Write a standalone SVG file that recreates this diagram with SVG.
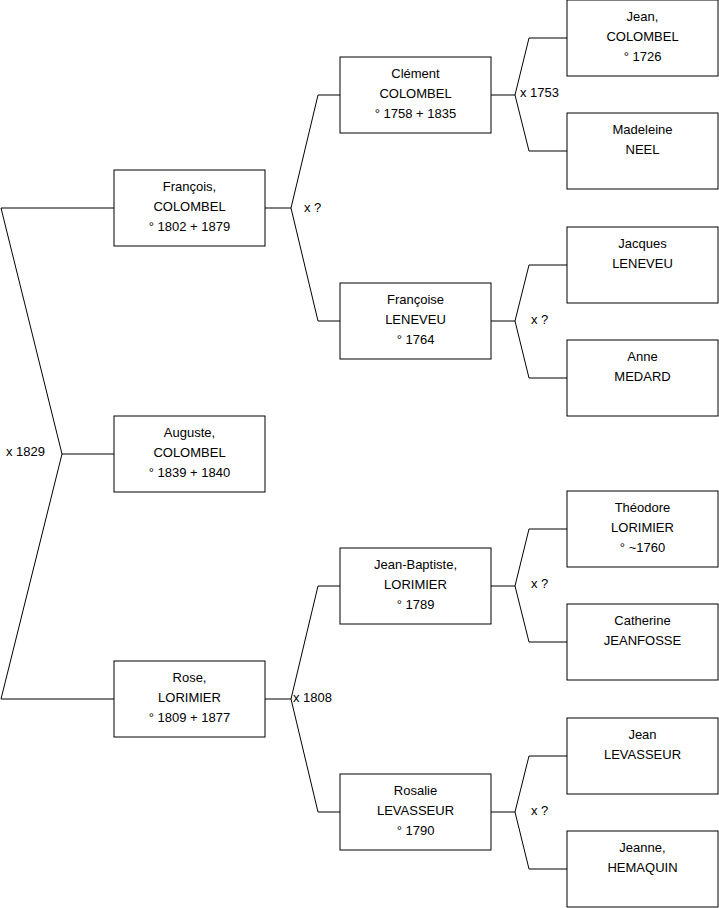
<svg xmlns="http://www.w3.org/2000/svg" width="719" height="908" viewBox="0 0 719 908">
<style>
.box{fill:#fff;stroke:#000;stroke-width:1}
.t{font-family:"Liberation Sans",Arial,sans-serif;font-size:13px;fill:#000;text-anchor:middle}
.l{font-family:"Liberation Sans",Arial,sans-serif;font-size:13px;fill:#000}
.c{fill:none;stroke:#000;stroke-width:1}
</style>
<rect width="719" height="908" fill="#fff"/>
<g id="connectors">
<path class="c" d="M114,208H1L62,454H114M62,454L1,699H114"/>
<path class="c" d="M265,208H291L318,95H340M291,208L318,321H340"/>
<path class="c" d="M265,699H291L318,586H340M291,699L318,812H340"/>
<path class="c" d="M491,95H515L529,38H567M515,95L529,151H567"/>
<path class="c" d="M491,321H515L529,265H567M515,321L529,378H567"/>
<path class="c" d="M491,586H515L529,529H567M515,586L529,642H567"/>
<path class="c" d="M491,812H515L529,756H567M515,812L529,869H567"/>
<text class="l" x="6" y="456">x 1829</text>
<text class="l" x="304" y="212">x ?</text>
<text class="l" x="293" y="702">x 1808</text>
<text class="l" x="520" y="97">x 1753</text>
<text class="l" x="531" y="324">x ?</text>
<text class="l" x="531" y="588">x ?</text>
<text class="l" x="531" y="815">x ?</text>
</g>
<g id="francois"><rect class="box" x="114" y="170" width="151" height="76"/><text class="t" x="189.5" y="191">François,</text><text class="t" x="189.5" y="211">COLOMBEL</text><text class="t" x="189.5" y="231">° 1802 + 1879</text></g>
<g id="auguste"><rect class="box" x="114" y="416" width="151" height="76"/><text class="t" x="189.5" y="437">Auguste,</text><text class="t" x="189.5" y="457">COLOMBEL</text><text class="t" x="189.5" y="477">° 1839 + 1840</text></g>
<g id="rose"><rect class="box" x="114" y="661" width="151" height="76"/><text class="t" x="189.5" y="682">Rose,</text><text class="t" x="189.5" y="702">LORIMIER</text><text class="t" x="189.5" y="722">° 1809 + 1877</text></g>
<g id="clement"><rect class="box" x="340" y="57" width="151" height="76"/><text class="t" x="415.5" y="78">Clément</text><text class="t" x="415.5" y="98">COLOMBEL</text><text class="t" x="415.5" y="118">° 1758 + 1835</text></g>
<g id="francoise"><rect class="box" x="340" y="283" width="151" height="76"/><text class="t" x="415.5" y="304">Françoise</text><text class="t" x="415.5" y="324">LENEVEU</text><text class="t" x="415.5" y="344">° 1764</text></g>
<g id="jeanbaptiste"><rect class="box" x="340" y="548" width="151" height="76"/><text class="t" x="415.5" y="569">Jean-Baptiste,</text><text class="t" x="415.5" y="589">LORIMIER</text><text class="t" x="415.5" y="609">° 1789</text></g>
<g id="rosalie"><rect class="box" x="340" y="774" width="151" height="76"/><text class="t" x="415.5" y="795">Rosalie</text><text class="t" x="415.5" y="815">LEVASSEUR</text><text class="t" x="415.5" y="835">° 1790</text></g>
<g id="jean"><rect class="box" x="567" y="0" width="151" height="76"/><text class="t" x="642.5" y="21">Jean,</text><text class="t" x="642.5" y="41">COLOMBEL</text><text class="t" x="642.5" y="61">° 1726</text></g>
<g id="madeleine"><rect class="box" x="567" y="113" width="151" height="76"/><text class="t" x="642.5" y="134">Madeleine</text><text class="t" x="642.5" y="154">NEEL</text></g>
<g id="jacques"><rect class="box" x="567" y="227" width="151" height="76"/><text class="t" x="642.5" y="248">Jacques</text><text class="t" x="642.5" y="268">LENEVEU</text></g>
<g id="anne"><rect class="box" x="567" y="340" width="151" height="76"/><text class="t" x="642.5" y="361">Anne</text><text class="t" x="642.5" y="381">MEDARD</text></g>
<g id="theodore"><rect class="box" x="567" y="491" width="151" height="76"/><text class="t" x="642.5" y="512">Théodore</text><text class="t" x="642.5" y="532">LORIMIER</text><text class="t" x="642.5" y="552">° ~1760</text></g>
<g id="catherine"><rect class="box" x="567" y="604" width="151" height="76"/><text class="t" x="642.5" y="625">Catherine</text><text class="t" x="642.5" y="645">JEANFOSSE</text></g>
<g id="jeanlevasseur"><rect class="box" x="567" y="718" width="151" height="76"/><text class="t" x="642.5" y="739">Jean</text><text class="t" x="642.5" y="759">LEVASSEUR</text></g>
<g id="jeanne"><rect class="box" x="567" y="831" width="151" height="76"/><text class="t" x="642.5" y="852">Jeanne,</text><text class="t" x="642.5" y="872">HEMAQUIN</text></g>
</svg>
